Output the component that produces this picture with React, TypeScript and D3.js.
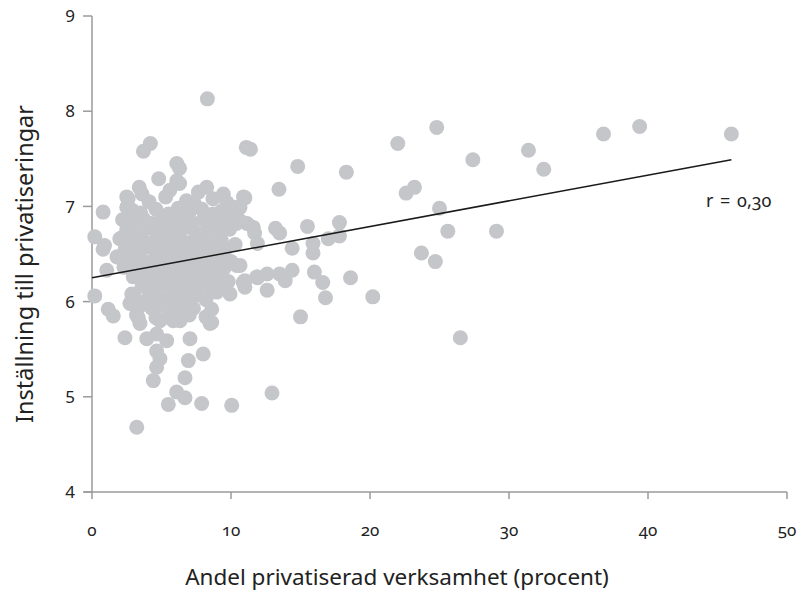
import React from "react";
import * as d3 from "d3";

// Tick values
const xTicks = [0, 10, 20, 30, 40, 50];
const yTicks = [4, 5, 6, 7, 8, 9];

// Regression line (x range and fitted y)
const fitX = [0, 46];
const fitY = [6.25, 7.49];
const rLabel = "r = 0,30";

const xTitle = "Andel privatiserad verksamhet (procent)";
const yTitle = "Inställning till privatiseringar";

// Outlying / readable points: [andel privatiserad, inställning]
const sparsePoints: [number, number][] = [
  [8.3, 8.13], [3.7, 7.58], [4.2, 7.66], [11.1, 7.62], [11.4, 7.6],
  [6.1, 7.45], [6.3, 7.4], [4.8, 7.29], [3.4, 7.2], [3.6, 7.13], [5.6, 7.17],
  [6.1, 7.27], [6.3, 7.24], [8.25, 7.2], [7.65, 7.15], [2.5, 7.1], [2.5, 6.99],
  [0.8, 6.94], [9.45, 7.13], [10.9, 7.1], [10.2, 6.99], [0.2, 6.68], [0.9, 6.59],
  [2.25, 6.68], [8.7, 6.92], [9.45, 6.82], [10.65, 6.85],
  [0.8, 6.55], [1.8, 6.47], [1.06, 6.33], [2.97, 6.26], [0.2, 6.06], [1.17, 5.92],
  [1.53, 5.85], [2.86, 6.08], [2.73, 5.98], [3.33, 5.83], [3.45, 5.77], [4.89, 5.8],
  [2.37, 5.62], [3.94, 5.61], [4.65, 5.66], [5.37, 5.59], [5.85, 5.8], [6.33, 5.8],
  [7.05, 5.61], [4.65, 5.48], [4.89, 5.4], [4.65, 5.31], [4.41, 5.17], [8.0, 5.45],
  [6.93, 5.38], [6.69, 5.2], [6.09, 5.05], [5.49, 4.92], [6.69, 4.99], [7.89, 4.93],
  [10.05, 4.91], [3.22, 4.68], [8.61, 5.92], [8.61, 5.78], [8.97, 6.1], [9.93, 6.08],
  [10.41, 6.38], [10.88, 6.2], [11.85, 6.26], [8.49, 5.77], [12.95, 5.04],
  [14.8, 7.42], [18.3, 7.36], [13.45, 7.18], [22.0, 7.66], [24.8, 7.83], [27.4, 7.49],
  [22.6, 7.14], [23.2, 7.2], [25.0, 6.98], [25.6, 6.74], [29.1, 6.74], [23.7, 6.51],
  [24.7, 6.42], [26.5, 5.62], [20.2, 6.05], [18.6, 6.25], [15.0, 5.84], [16.8, 6.04],
  [16.6, 6.2], [16.0, 6.31], [15.9, 6.51], [15.9, 6.61], [15.5, 6.79], [17.8, 6.83],
  [17.8, 6.69], [17.0, 6.66], [14.4, 6.56], [13.2, 6.77], [13.5, 6.72], [11.0, 7.09],
  [10.65, 6.99], [11.15, 6.82], [11.6, 6.78], [11.7, 6.72], [11.9, 6.61], [10.65, 6.38],
  [11.0, 6.22], [11.0, 6.15], [11.9, 6.25], [12.6, 6.29], [12.6, 6.12], [13.5, 6.29],
  [13.9, 6.22], [14.4, 6.33], [31.4, 7.59], [32.5, 7.39], [36.8, 7.76], [39.4, 7.84],
  [46.0, 7.76],
];

// Dense cluster of municipalities with low share
const densePoints: [number, number][] = [
  [2.6, 7.08], [4.1, 7.05], [5.3, 7.1], [6.8, 7.06], [7.4, 7.02], [8.7, 7.08], [9.7, 7.04],
  [2.9, 6.96], [3.5, 6.93], [4.6, 6.97], [5.5, 6.92], [6.2, 6.98], [7.0, 6.94], [7.9, 6.97],
  [8.6, 6.91], [9.3, 6.95], [10.1, 6.9],
  [2.2, 6.86], [3.0, 6.83], [3.7, 6.87], [4.3, 6.82], [5.0, 6.86], [5.8, 6.84], [6.5, 6.88],
  [7.2, 6.83], [8.0, 6.86], [8.8, 6.8], [9.6, 6.85], [10.4, 6.82],
  [2.5, 6.76], [3.2, 6.73], [4.0, 6.77], [4.7, 6.72], [5.3, 6.76], [6.0, 6.74], [6.8, 6.78],
  [7.5, 6.72], [8.3, 6.75], [9.0, 6.71], [9.9, 6.76],
  [2.0, 6.66], [2.8, 6.63], [3.5, 6.67], [4.3, 6.62], [5.0, 6.66], [5.6, 6.63], [6.3, 6.67],
  [7.0, 6.62], [7.8, 6.66], [8.5, 6.6], [9.3, 6.64], [10.3, 6.6],
  [2.4, 6.56], [3.1, 6.53], [3.8, 6.57], [4.6, 6.52], [5.3, 6.56], [6.0, 6.53], [6.6, 6.57],
  [7.3, 6.52], [8.0, 6.55], [8.8, 6.51], [9.6, 6.55],
  [2.0, 6.46], [2.7, 6.43], [3.4, 6.47], [4.2, 6.42], [4.9, 6.46], [5.6, 6.43], [6.3, 6.47],
  [6.9, 6.42], [7.6, 6.45], [8.3, 6.41], [9.1, 6.45], [10.0, 6.42],
  [2.3, 6.36], [3.0, 6.33], [3.8, 6.37], [4.5, 6.32], [5.2, 6.36], [5.9, 6.33], [6.6, 6.37],
  [7.3, 6.32], [8.0, 6.35], [8.7, 6.31], [9.5, 6.35],
  [3.3, 6.26], [4.1, 6.23], [4.8, 6.27], [5.5, 6.22], [6.2, 6.26], [6.9, 6.23], [7.5, 6.27],
  [8.2, 6.22], [9.0, 6.25], [9.8, 6.21],
  [3.6, 6.16], [4.4, 6.13], [5.1, 6.17], [5.8, 6.12], [6.5, 6.16], [7.2, 6.13], [7.9, 6.17],
  [8.6, 6.12], [9.4, 6.15],
  [3.0, 6.06], [4.0, 6.03], [4.7, 6.07], [5.4, 6.02], [6.1, 6.06], [6.8, 6.03], [7.5, 6.07],
  [8.2, 6.02],
  [3.5, 5.96], [4.3, 5.93], [5.0, 5.97], [5.8, 5.92], [6.5, 5.96], [7.3, 5.93],
  [3.2, 5.86], [4.6, 5.83], [5.5, 5.87], [6.2, 5.82], [7.0, 5.86], [8.2, 5.84],
];

const allPoints = [...densePoints, ...sparsePoints];

const W = 801;
const H = 592;
const axisColor = "#9a9a9a";
const dotColor = "#c5c6ca";
const font = "'Noto Sans', 'Open Sans', sans-serif";

export default function App() {
  const x = d3.scaleLinear().domain([0, 50]).range([92, 787]);
  const y = d3.scaleLinear().domain([4, 9]).range([492, 16]);
  const line = d3
    .line<number>()
    .x((_, i) => x(fitX[i]))
    .y((d) => y(d));

  return (
    <div style={{ position: "absolute", left: 0, top: 0 }}>
      <svg width={W} height={H} style={{ display: "block", background: "#fff" }}>
        {/* y axis */}
        <line x1={x(0)} x2={x(0)} y1={y(9)} y2={y(4)} stroke={axisColor} strokeWidth={1.5} />
        {yTicks.map((t) => (
          <g key={"yt" + t}>
            <line x1={x(0) - 9} x2={x(0)} y1={y(t)} y2={y(t)} stroke={axisColor} strokeWidth={1.5} />
            <text
              x={70}
              y={y(t)}
              dy="0.36em"
              textAnchor="middle"
              fontFamily={font}
              fontSize={17}
              fill="#222"
            >
              {t}
            </text>
          </g>
        ))}
        {/* x axis */}
        <line x1={x(0) - 8} x2={x(50)} y1={y(4)} y2={y(4)} stroke={axisColor} strokeWidth={1.5} />
        {xTicks.map((t) => (
          <g key={"xt" + t}>
            <line x1={x(t)} x2={x(t)} y1={y(4)} y2={y(4) + 7} stroke={axisColor} strokeWidth={1.5} />
            <text
              x={x(t)}
              y={536}
              textAnchor="middle"
              fontFamily={font}
              fontSize={17}
              fill="#222"
              style={{ fontVariantNumeric: "oldstyle-nums" }}
            >
              {t}
            </text>
          </g>
        ))}
        {/* points */}
        {allPoints.map((p, i) => (
          <circle key={i} cx={x(p[0])} cy={y(p[1])} r={7.5} fill={dotColor} />
        ))}
        {/* regression line */}
        <path d={line(fitY) || ""} fill="none" stroke="#1a1a1a" strokeWidth={1.5} />
        <text
          x={706}
          y={207}
          fontFamily={font}
          fontSize={18}
          fill="#222"
          style={{ fontVariantNumeric: "oldstyle-nums", wordSpacing: "2px" }}
        >
          {rLabel}
        </text>
        {/* titles */}
        <text
          x={397}
          y={585}
          textAnchor="middle"
          fontFamily={font}
          fontSize={22.5}
          fill="#222"
        >
          {xTitle}
        </text>
        <text
          transform={`translate(33, 264) rotate(-90)`}
          textAnchor="middle"
          fontFamily={font}
          fontSize={23.5}
          fill="#222"
        >
          {yTitle}
        </text>
      </svg>
    </div>
  );
}
